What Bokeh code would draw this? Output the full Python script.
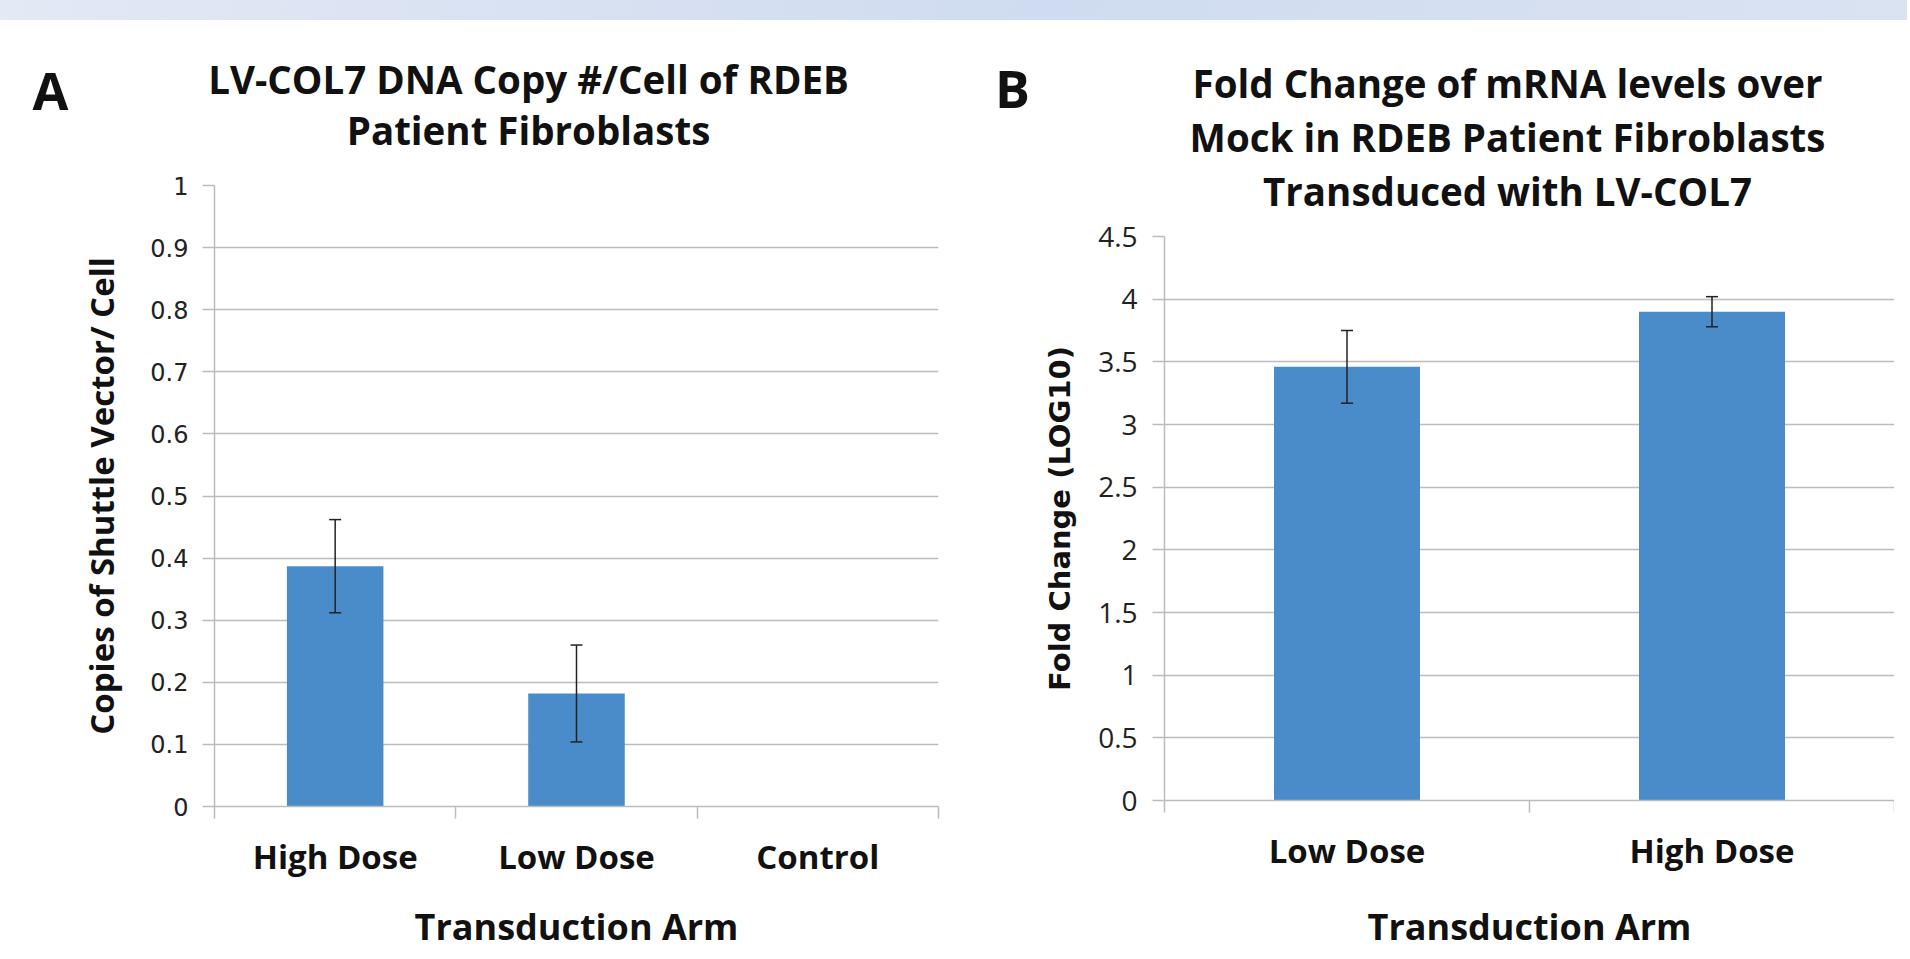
from bokeh.plotting import figure
from bokeh.models import Range1d, FixedTicker, ColumnDataSource, Whisker, TeeHead, Div
from bokeh.core.properties import value
from bokeh.layouts import column, row
from bokeh.embed import file_html
from bokeh.resources import INLINE

# ---------------- data ----------------
a_categories = ["High Dose", "Low Dose", "Control"]
a_values = [0.387, 0.182, 0.0]
a_errors = [0.075, 0.078, 0.0]
a_y_ticks = [0, 0.1, 0.2, 0.3, 0.4, 0.5, 0.6, 0.7, 0.8, 0.9, 1]
a_y_labels = ["0", "0.1", "0.2", "0.3", "0.4", "0.5", "0.6", "0.7", "0.8", "0.9", "1"]
a_letter = "A"
a_title = ["LV-COL7 DNA Copy #/Cell of RDEB", "Patient Fibroblasts"]
a_ylabel = "Copies of Shuttle Vector/ Cell"

b_categories = ["Low Dose", "High Dose"]
b_values = [3.46, 3.90]
b_errors = [0.29, 0.12]
b_y_ticks = [0, 0.5, 1, 1.5, 2, 2.5, 3, 3.5, 4, 4.5]
b_y_labels = ["0", "0.5", "1", "1.5", "2", "2.5", "3", "3.5", "4", "4.5"]
b_letter = "B"
b_title = ["Fold Change of mRNA levels over", "Mock in RDEB Patient Fibroblasts", "Transduced with LV-COL7"]
b_ylabel = "Fold Change (LOG10)"

x_title = "Transduction Arm"

BAR = "#4a8cca"
GRID = "#bcbcbc"
TXT = "#111111"


def make_panel(cats, vals, errs, yticks, ylabels, width, height, borders,
               tick_font, tick_size, tick_standoff, ylab, ylab_font, ylab_size, ylab_standoff,
               cat_standoff, xlab_standoff):
    n = len(cats)
    pos = list(range(1, n + 1))
    p = figure(width=width, height=height, output_backend="svg", toolbar_location=None,
               x_range=Range1d(0.5, n + 0.5), y_range=Range1d(yticks[0], yticks[-1]),
               min_border_left=borders[0], min_border_right=borders[1],
               min_border_top=borders[2], min_border_bottom=borders[3])
    p.outline_line_color = None
    p.background_fill_color = "white"
    p.border_fill_color = "white"

    src = ColumnDataSource(dict(x=pos, top=vals))
    p.vbar(x="x", top="top", bottom=0, width=0.4, source=src, fill_color=BAR, line_color=None)

    ex = [x for x, e in zip(pos, errs) if e > 0]
    eu = [v + e for v, e in zip(vals, errs) if e > 0]
    el = [v - e for v, e in zip(vals, errs) if e > 0]
    esrc = ColumnDataSource(dict(x=ex, upper=eu, lower=el))
    w = Whisker(source=esrc, base="x", upper="upper", lower="lower",
                line_color="#222222", line_width=1.5,
                upper_head=TeeHead(size=12, line_color="#222222", line_width=1.5),
                lower_head=TeeHead(size=12, line_color="#222222", line_width=1.5))
    w.level = "overlay"
    p.add_layout(w)

    # x axis
    xa = p.xaxis[0]
    xa.ticker = FixedTicker(ticks=pos, minor_ticks=[x - 0.5 for x in pos] + [n + 0.5])
    xa.major_label_overrides = {x: c for x, c in zip(pos, cats)}
    xa.major_tick_line_color = None
    xa.major_tick_out = 0
    xa.major_tick_in = 0
    xa.minor_tick_out = 12
    xa.minor_tick_in = 0
    xa.minor_tick_line_color = GRID
    xa.minor_tick_line_width = 1.5
    xa.axis_line_color = GRID
    xa.axis_line_width = 1.5
    xa.major_label_text_font = "Open Sans"
    xa.major_label_text_font_style = "bold"
    xa.major_label_text_font_size = "33px"
    xa.major_label_text_color = TXT
    xa.major_label_standoff = cat_standoff
    xa.axis_label = x_title
    xa.axis_label_text_font = "Open Sans"
    xa.axis_label_text_font_style = "bold"
    xa.axis_label_text_font_size = "36px"
    xa.axis_label_text_color = TXT
    xa.axis_label_standoff = xlab_standoff

    # y axis
    ya = p.yaxis[0]
    ya.ticker = FixedTicker(ticks=yticks)
    ya.major_label_overrides = {t: l for t, l in zip(yticks, ylabels)}
    ya.minor_tick_line_color = None
    ya.major_tick_out = 12
    ya.major_tick_in = 0
    ya.major_tick_line_color = GRID
    ya.major_tick_line_width = 1.5
    ya.axis_line_color = GRID
    ya.axis_line_width = 1.5
    ya.major_label_text_font = tick_font
    ya.major_label_text_font_size = tick_size
    ya.major_label_text_color = "#222222"
    ya.major_label_standoff = tick_standoff
    ya.axis_label = ylab
    ya.axis_label_text_font = ylab_font
    ya.axis_label_text_font_style = "bold"
    ya.axis_label_text_font_size = ylab_size
    ya.axis_label_text_color = TXT
    ya.axis_label_standoff = ylab_standoff

    p.xgrid.visible = False
    p.ygrid.grid_line_color = GRID
    p.ygrid.grid_line_width = 1.5
    return p


def make_header(width, height, letter, letter_xy, lines, title_x, title_ys):
    h = figure(width=width, height=height, output_backend="svg", toolbar_location=None,
               x_range=Range1d(0, width), y_range=Range1d(height, 0),
               x_axis_location=None, y_axis_location=None,
               min_border_left=0, min_border_right=0, min_border_top=0, min_border_bottom=0)
    h.outline_line_color = None
    h.xgrid.visible = False
    h.ygrid.visible = False
    h.text(x=[letter_xy[0]], y=[letter_xy[1]], text=[letter],
           text_font=value("Open Sans"), text_font_style="bold", text_font_size="52px",
           text_align="center", text_baseline="middle", text_color=TXT)
    h.text(x=[title_x] * len(lines), y=title_ys, text=lines,
           text_font=value("Open Sans"), text_font_style="bold", text_font_size="38.5px",
           text_align="center", text_baseline="middle", text_color=TXT)
    return h


ha = make_header(952, 140, a_letter, (50, 64), a_title, 528, [53, 104])
pa = make_panel(a_categories, a_values, a_errors, a_y_ticks, a_y_labels,
                width=952, height=788, borders=(214, 14, 20, 146),
                tick_font="DejaVu Sans", tick_size="24px", tick_standoff=14,
                ylab=a_ylabel, ylab_font="Open Sans", ylab_size="33px", ylab_standoff=23,
                cat_standoff=15, xlab_standoff=20)

hb = make_header(942, 192, b_letter, (60, 62), b_title, 555, [57, 111, 165])
pb = make_panel(b_categories, b_values, b_errors, b_y_ticks, b_y_labels,
                width=942, height=736, borders=(212, 0, 19, 152),
                tick_font="Open Sans", tick_size="28px", tick_standoff=15,
                ylab=b_ylabel, ylab_font="DejaVu Sans", ylab_size="29px", ylab_standoff=18,
                cat_standoff=15, xlab_standoff=26)

band = Div(text='<div style="margin:-8px 0 0 -8px;width:1910px;height:23px;'
                'background:linear-gradient(100deg,#e3e9f5 0%,#cfdbf0 55%,#dae3f2 100%);"></div>',
           width=1894, height=15)

col_a = column(row(ha, spacing=0), pa, spacing=0)
col_b = column(row(hb, spacing=0), pb, spacing=0)
layout = column(band, row(col_a, col_b, spacing=0), spacing=0)
open("out.html", "w").write(file_html(layout, INLINE))
